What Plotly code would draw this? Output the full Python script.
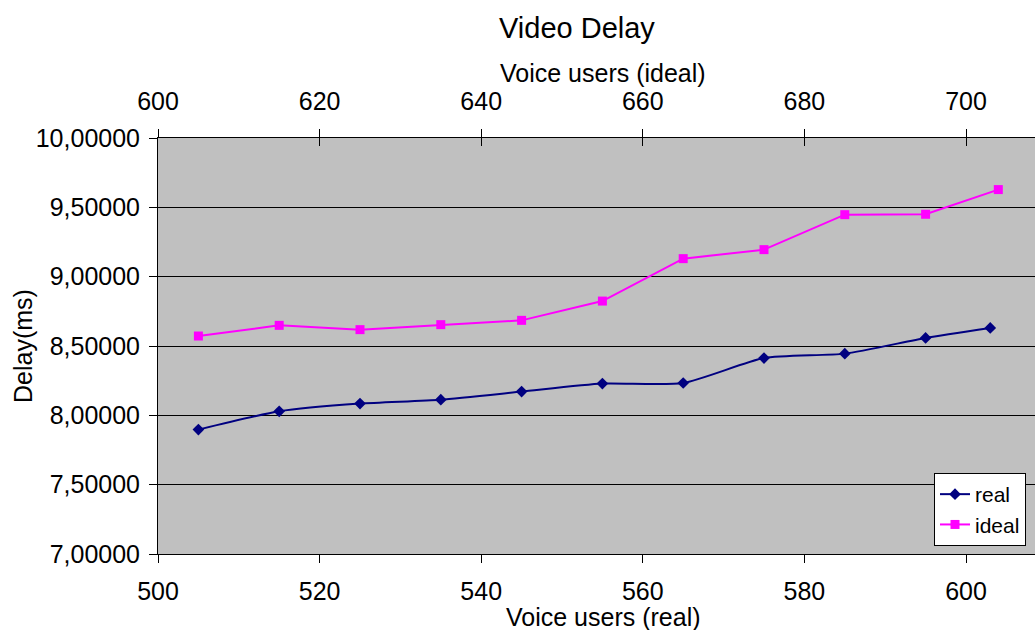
import plotly.graph_objects as go

real_x = [505, 515, 525, 535, 545, 555, 565, 575, 585, 595, 603]
real_y = [7.897, 8.029, 8.085, 8.113, 8.171, 8.229, 8.233, 8.413, 8.445, 8.558, 8.630]
ideal_x = [605, 615, 625, 635, 645, 655, 665, 675, 685, 695, 704]
ideal_y = [8.572, 8.649, 8.618, 8.654, 8.685, 8.824, 9.130, 9.195, 9.447, 9.450, 9.628]

y_ticks = [7.0, 7.5, 8.0, 8.5, 9.0, 9.5, 10.0]
xb_ticks = [500, 520, 540, 560, 580, 600]
xt_ticks = [600, 620, 640, 660, 680, 700]

FONT = "Liberation Sans, Arial, sans-serif"
W, H = 1035, 630
L, T, R, B = 158, 138, 0, 630 - 554
xspan = (1035 - 158) / 8.08


def px(xpix):
    return (xpix - L) / (W - L - R)


def py(ypix):
    return (H - B - ypix) / (H - B - T)


fig = go.Figure()
fig.add_trace(go.Scatter(
    x=real_x, y=real_y, name="real", mode="lines+markers",
    line=dict(color="#000080", width=2, shape="spline", smoothing=0.6),
    marker=dict(symbol="diamond", size=9, color="#000080"),
    xaxis="x", yaxis="y"))
fig.add_trace(go.Scatter(
    x=ideal_x, y=ideal_y, name="ideal", mode="lines+markers",
    line=dict(color="#FF00FF", width=2),
    marker=dict(symbol="square", size=9, color="#FF00FF"),
    xaxis="x2", yaxis="y"))
fig.add_trace(go.Scatter(x=[None], y=[None], xaxis="x3", yaxis="y", showlegend=False,
                         hoverinfo="skip"))

fig.update_layout(
    width=W, height=H, autosize=False,
    margin=dict(l=L, r=R, t=T, b=B, pad=0),
    paper_bgcolor="white", plot_bgcolor="#C0C0C0",
    separators=",.",
    font=dict(family=FONT, size=25, color="black"),
    showlegend=True,
    legend=dict(x=px(934), y=py(473), xanchor="left", yanchor="top",
                bgcolor="white", bordercolor="black", borderwidth=1,
                font=dict(size=21, family=FONT), tracegroupgap=0, itemwidth=30),
    xaxis=dict(range=[500, 500 + xspan], tickvals=xb_ticks, ticks="outside",
               ticklen=8, tickcolor="black", showline=True, linecolor="black", linewidth=1,
               showgrid=False, zeroline=False, tickfont=dict(size=25), ticklabelstandoff=7),
    xaxis2=dict(range=[600, 600 + xspan], tickvals=xt_ticks, overlaying="x", side="top",
                ticks="outside", ticklen=8, tickcolor="black", showline=True, linecolor="black",
                linewidth=1, showgrid=False, zeroline=False, tickfont=dict(size=25),
                ticklabelstandoff=9),
    xaxis3=dict(range=[600, 600 + xspan], tickvals=xt_ticks, overlaying="x", side="top",
                ticks="inside", ticklen=8, tickcolor="black", showticklabels=False,
                showline=False, showgrid=False, zeroline=False),
    yaxis=dict(range=[7, 10], tickvals=y_ticks, tickformat=".5f", ticks="outside", ticklen=8,
               tickcolor="black", showline=True, linecolor="black", linewidth=1,
               showgrid=True, gridcolor="black", gridwidth=1, zeroline=False,
               tickfont=dict(size=25), ticklabelstandoff=4),
    annotations=[
        dict(text="Video Delay", xref="paper", yref="paper", x=px(577), y=py(28),
             xanchor="center", yanchor="middle", showarrow=False, font=dict(size=29)),
        dict(text="Voice users (ideal)", xref="paper", yref="paper", x=px(603), y=py(73),
             xanchor="center", yanchor="middle", showarrow=False, font=dict(size=25)),
        dict(text="Voice users (real)", xref="paper", yref="paper", x=px(603), y=py(617),
             xanchor="center", yanchor="middle", showarrow=False, font=dict(size=25)),
        dict(text="Delay(ms)", xref="paper", yref="paper", x=px(23), y=py(346),
             xanchor="center", yanchor="middle", showarrow=False, textangle=-90,
             font=dict(size=25)),
    ],
)

fig.write_html(
    "out.html",
    config={"displayModeBar": False},
    post_script="document.body.style.margin='0';document.body.style.overflow='hidden';",
)
